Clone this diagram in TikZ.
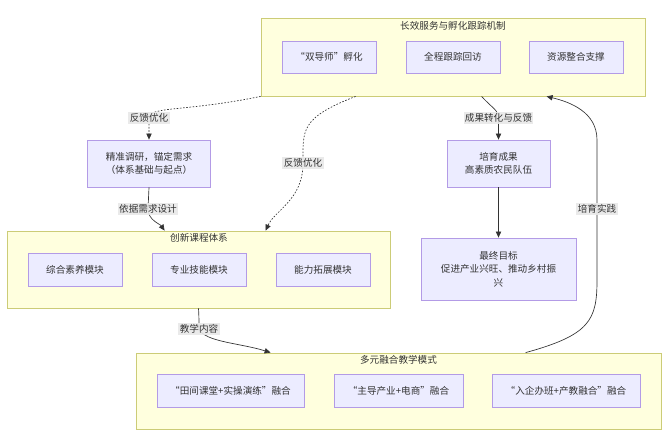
\documentclass[tikz,border=0pt]{standalone}
\usepackage{fontspec}
\setmainfont{Noto Sans CJK SC}
\usetikzlibrary{arrows.meta,calc}
\tikzset{>={Stealth[inset=0pt,length=4.5pt,width=4pt]}}
\definecolor{clfill}{HTML}{FFFFDE}
\definecolor{cldraw}{HTML}{CCCC77}
\definecolor{ndfill}{HTML}{ECECFF}
\definecolor{nddraw}{HTML}{9370DB}
\definecolor{lnk}{HTML}{333333}
\definecolor{lblbg}{HTML}{E8E8E8}
\tikzset{
  cluster/.style={draw=cldraw,fill=clfill,line width=0.6pt,inner sep=0pt},
  box/.style={draw=nddraw!70,fill=ndfill,line width=0.6pt,inner sep=0pt,align=center,text=lnk,font=\fontsize{7.2}{10}\selectfont},
  title/.style={text=lnk,font=\fontsize{7.2}{10}\selectfont},
  elabel/.style={fill=lblbg,fill opacity=0.9,text opacity=1,text=lnk,inner sep=1pt,font=\fontsize{7.2}{10}\selectfont},
  link/.style={draw=lnk,line width=0.5pt,->},
  dlink/.style={link,dash pattern=on 1.2pt off 1.2pt}
}
\begin{document}
\begin{tikzpicture}[x=0.75pt,y=0.75pt,yscale=-1,xscale=1]
\useasboundingbox (0,0) rectangle (671,436);

%Cluster: top
\node[cluster,minimum width=384*0.75pt,minimum height=78*0.75pt] (cxfw) at (453,57) {};
\node[title] (cxfwt) at (453,26) {长效服务与孵化跟踪机制};
\node[box,minimum width=94*0.75pt,minimum height=32*0.75pt] (sds) at (329,57) {“双导师”孵化};
\node[box,minimum width=94*0.75pt,minimum height=32*0.75pt] (qcgz) at (453,57) {全程跟踪回访};
\node[box,minimum width=94*0.75pt,minimum height=32*0.75pt] (zyzh) at (576,57) {资源整合支撑};

%Single nodes
\node[box,minimum width=123*0.75pt,minimum height=47*0.75pt] (jzdy) at (149,163.5) {精准调研，锚定需求\\（体系基础与起点）};
\node[box,minimum width=103*0.75pt,minimum height=47*0.75pt] (pycg) at (498.5,163.5) {培育成果\\高素质农民队伍};
\node[box,minimum width=155*0.75pt,minimum height=62*0.75pt] (zzmb) at (498.5,269) {最终目标\\促进产业兴旺、推动乡村振\\兴};

%Cluster: course system
\node[cluster,minimum width=383*0.75pt,minimum height=77*0.75pt] (kctx) at (198.5,269.5) {};
\node[title] (kctxt) at (199,238) {创新课程体系};
\node[box,minimum width=94*0.75pt,minimum height=33*0.75pt] (zhsy) at (75,269.5) {综合素养模块};
\node[box,minimum width=94*0.75pt,minimum height=33*0.75pt] (zyjn) at (199,269.5) {专业技能模块};
\node[box,minimum width=94*0.75pt,minimum height=33*0.75pt] (nltz) at (323,269.5) {能力拓展模块};

%Cluster: teaching mode
\node[cluster,minimum width=525*0.75pt,minimum height=76*0.75pt] (jxms) at (398.5,391) {};
\node[title] (jxmst) at (398.5,360) {多元融合教学模式};
\node[box,minimum width=147*0.75pt,minimum height=33*0.75pt] (tjkt) at (230.5,390.5) {“田间课堂+实操演练”融合};
\node[box,minimum width=129*0.75pt,minimum height=33*0.75pt] (zdcy) at (398.5,390.5) {“主导产业+电商”融合};
\node[box,minimum width=148*0.75pt,minimum height=33*0.75pt] (rqbb) at (566,390.5) {“入企办班+产教融合”融合};

%Links
\draw[dlink] (cxfw.south west) .. controls (185,112) and (149,106) .. (149,118) node[elabel] {反馈优化} -- (jzdy.north);
\draw[dlink] ($(cxfw.south west)+(95,0)$) .. controls (300,118) and (303,130) .. (303,163) node[elabel] {反馈优化} .. controls (303,200) and (275,210) .. ($(kctx.north west)+(259,0)$);
\draw[link] ($(cxfw.south west)+(221,0)$) .. controls (492,108) and (498.5,110) .. (498.5,118) node[elabel] {成果转化与反馈} -- (pycg.north);
\draw[link] (pycg.south) -- (zzmb.north);
\draw[link] (jzdy.south) -- (148,209) node[elabel] {依据需求设计} .. controls (148,220) and (160,224) .. ($(kctx.north west)+(158,0)$);
\draw[link] (kctx.south) .. controls (199,316) and (199,322) .. (199,329) node[elabel] {教学内容} .. controls (205,342) and (240,343) .. ($(jxms.north west)+(135,0)$);
\draw[link] ($(jxms.north west)+(390,0)$) .. controls (590,335) and (597,320) .. (597,280) -- (597,209) node[elabel] {培育实践} -- (597,140) .. controls (597,112) and (570,102) .. ($(cxfw.south west)+(286,0)$);
\end{tikzpicture}
\end{document}
